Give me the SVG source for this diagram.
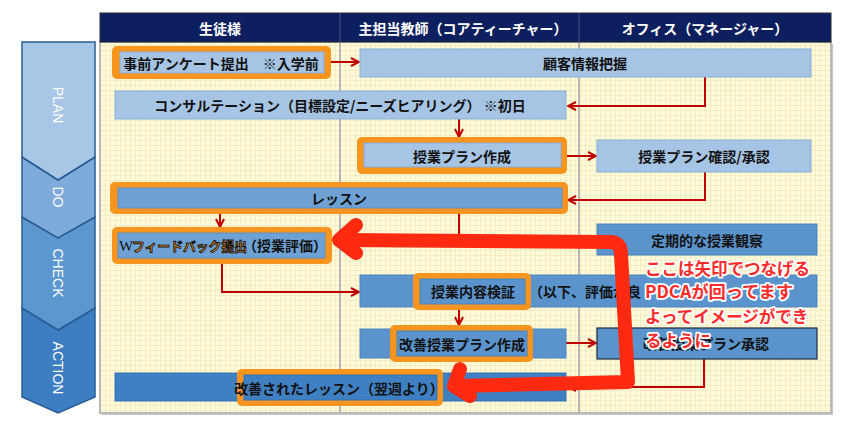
<svg xmlns="http://www.w3.org/2000/svg" width="862" height="422" viewBox="0 0 862 422">
<defs>
<pattern id="grid" width="5" height="5" patternUnits="userSpaceOnUse">
<rect width="5" height="5" fill="#fffad8"/>
<path d="M0,0.5 H5 M0.5,0 V5" stroke="#f1e9bd" stroke-width="0.8"/>
</pattern>
<marker id="ah" viewBox="0 0 10 10" refX="9" refY="5" markerWidth="10" markerHeight="10" markerUnits="userSpaceOnUse" orient="auto">
<path d="M1,1 L9,5 L1,9" fill="none" stroke="#c00000" stroke-width="2"/>
</marker>
<style>
.hd{font-family:"Noto Sans CJK JP","Noto Sans",sans-serif;font-weight:bold;font-size:14px;fill:#fff;text-anchor:middle;dominant-baseline:central}
.t{font-family:"Noto Sans CJK JP","Noto Sans",sans-serif;font-weight:bold;font-size:14px;fill:#111;text-anchor:middle;dominant-baseline:central}
.ph{font-family:"Liberation Sans",Arial,sans-serif;font-size:14px;fill:#fff;text-anchor:middle;dominant-baseline:central}
.lb{fill:#a6c5e5;stroke:#88add6;stroke-width:1}
.mb{fill:#6ea2d5;stroke:#5c90c6;stroke-width:1}
.db{fill:#5b94cd;stroke:#4a83bd;stroke-width:1}
.xb{fill:#3f80c2;stroke:#3572b3;stroke-width:1}
.or{fill:#f8951f}
.cn{fill:none;stroke:#c00000;stroke-width:2}
.chev{stroke:#2a5d93;stroke-width:1.5}
.red{font-family:"Noto Sans CJK JP","Noto Sans",sans-serif;font-weight:bold;font-size:16.5px;fill:#ff2b2b;stroke:#fff;stroke-width:3.5;paint-order:stroke;stroke-linejoin:round}
</style>
</defs>
<rect width="862" height="422" fill="#fff"/>

<!-- PDCA chevrons -->
<g id="pdca">
<polygon class="chev" fill="#3c7ec1" points="22,308 58,330 95,308 95,397 58,413 22,397"/>
<polygon class="chev" fill="#5d97cf" points="22,217 58,238 95,217 95,308 58,330 22,308"/>
<polygon class="chev" fill="#7eabd9" points="22,157 58,180 95,157 95,217 58,238 22,217"/>
<polygon class="chev" fill="#a8c6e6" points="22,42 95,42 95,157 58,180 22,157"/>
<text class="ph" x="58" y="105" transform="rotate(90 58 105)">PLAN</text>
<text class="ph" x="58" y="197" transform="rotate(90 58 197)">DO</text>
<text class="ph" x="58" y="273" transform="rotate(90 58 273)">CHECK</text>
<text class="ph" x="58" y="368" transform="rotate(90 58 368)">ACTION</text>
</g>

<!-- swimlane frame -->
<g id="lanes">
<rect x="102" y="44" width="731" height="371" fill="#c8c8c8"/>
<rect x="100" y="42" width="731" height="371" fill="url(#grid)" stroke="#b8b8b8" stroke-width="2"/>
<line x1="340" y1="42" x2="340" y2="413" stroke="#b8b8b8" stroke-width="2"/>
<line x1="579" y1="42" x2="579" y2="413" stroke="#b8b8b8" stroke-width="2"/>
<rect x="100" y="13" width="731" height="29" fill="#0d1f5e" stroke="#2b2b2b" stroke-width="1"/>
<line x1="340" y1="13" x2="340" y2="42" stroke="#33437a" stroke-width="1.5"/>
<line x1="579" y1="13" x2="579" y2="42" stroke="#33437a" stroke-width="1.5"/>
<text class="hd" x="220" y="28">生徒様</text>
<text class="hd" x="463" y="28">主担当教師（コアティーチャー）</text>
<text class="hd" x="705" y="28">オフィス（マネージャー）</text>
</g>

<!-- connectors -->
<g id="connectors">
<path class="cn" d="M331,62 H359" marker-end="url(#ah)"/>
<path class="cn" d="M705,77 V106 H568" marker-end="url(#ah)"/>
<path class="cn" d="M459,119 V137" marker-end="url(#ah)"/>
<path class="cn" d="M567,156 H596" marker-end="url(#ah)"/>
<path class="cn" d="M705,172 V200 H568" marker-end="url(#ah)"/>
<path class="cn" d="M220,214 V227" marker-end="url(#ah)"/>
<path class="cn" d="M459,214 V240"/>
<path class="cn" d="M222,263 V292 H359" marker-end="url(#ah)"/>
<path class="cn" d="M459,310 V325" marker-end="url(#ah)"/>
<path class="cn" d="M566,343 H596" marker-end="url(#ah)"/>
<path class="cn" d="M704,359 V387 H568" marker-end="url(#ah)"/>
</g>

<g id="n1">
<rect class="or" x="112" y="46" width="219" height="33" rx="5"/>
<rect class="lb" x="120" y="52" width="204" height="21"/>
<text class="t" x="221" y="63" font-size="13.5">事前アンケート提出　※入学前</text>
</g>
<g id="n2">
<rect class="lb" x="360" y="49" width="451" height="28"/>
<text class="t" x="585" y="63">顧客情報把握</text>
</g>
<g id="n3">
<rect class="lb" x="115" y="91" width="451" height="28"/>
<text class="t" x="340" y="105">コンサルテーション（目標設定/ニーズヒアリング） ※初日</text>
</g>
<g id="n4">
<rect class="or" x="357" y="137" width="210" height="37" rx="5"/>
<rect class="lb" x="364" y="143" width="197" height="24"/>
<text class="t" x="462" y="156">授業プラン作成</text>
</g>
<g id="n5">
<rect class="lb" x="597" y="140" width="214" height="32"/>
<text class="t" x="704" y="156">授業プラン確認/承認</text>
</g>
<g id="n6">
<rect class="or" x="110" y="182" width="458" height="32" rx="5"/>
<rect class="mb" x="118" y="188" width="444" height="20"/>
<text class="t" x="339" y="198">レッスン</text>
</g>
<g id="n7">
<rect class="or" x="112" y="227" width="220" height="37" rx="5"/>
<rect class="mb" x="118" y="233" width="207" height="25"/>
<text x="119" y="251" font-family="Liberation Serif,serif" font-size="15" fill="#111">W</text>
<text x="132" y="251" font-family="Noto Sans CJK JP,sans-serif" font-weight="bold" font-size="13" fill="#f8951f" stroke="#111" stroke-width="0.9" textLength="115" lengthAdjust="spacingAndGlyphs">フィードバック提出</text>
<text x="285" y="245" class="t" font-size="13.5">（授業評価）</text>
</g>
<g id="n8">
<rect class="db" x="597" y="224" width="220" height="31"/>
<text class="t" x="707" y="240">定期的な授業観察</text>
</g>
<g id="n9">
<rect class="db" x="360" y="275" width="457" height="32"/>
<rect class="or" x="413" y="273" width="118" height="37" rx="5"/>
<rect class="db" x="420" y="279" width="105" height="25" stroke="none"/>
<text class="t" x="473" y="291">授業内容検証</text>
<text class="t" x="529" y="291" style="text-anchor:start">（以下、評価が良</text>
</g>
<g id="n10">
<rect class="db" x="360" y="329" width="206" height="29"/>
<rect class="or" x="390" y="325" width="143" height="37" rx="5"/>
<rect class="db" x="397" y="331" width="130" height="25" stroke="none"/>
<text class="t" x="462" y="344">改善授業プラン作成</text>
</g>
<g id="n11">
<rect x="597" y="328" width="220" height="31" fill="#5b94cd" stroke="#1c2a40" stroke-width="1.2"/>
<text class="t" x="706" y="343">改善授業プラン承認</text>
</g>
<g id="n12">
<rect class="xb" x="115" y="373" width="451" height="28"/>
<rect class="or" x="237" y="369" width="206" height="37" rx="5"/>
<rect class="xb" x="244" y="375" width="193" height="25" stroke="none"/>
<text class="t" x="339" y="388">改善されたレッスン（翌週より）</text>
</g>

<!-- big hand-drawn red arrow -->
<g id="bigArrow" fill="none" stroke="#ff2a10" stroke-width="14" stroke-linecap="round" stroke-linejoin="round">
<path d="M340,240 L610,242 Q621,242 621,254 L628,382 L455,386"/>
<path d="M356,225 L339,240 L356,253"/>
<path d="M460,369 L454,386 L470,396"/>
</g>

<!-- overlay note -->
<g id="note">
<text class="red" x="645" y="275">ここは矢印でつなげる</text>
<text class="red" x="645" y="298" textLength="148" lengthAdjust="spacingAndGlyphs">PDCAが回ってます</text>
<text class="red" x="645" y="323">よってイメージができ</text>
<text class="red" x="645" y="347">るように</text>
</g>
</svg>
